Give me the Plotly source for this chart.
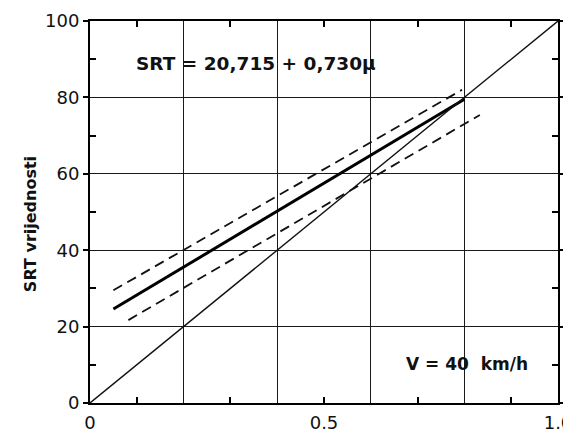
import plotly.graph_objects as go

# SRT vrijednosti vs. koeficijent trenja, V = 40 km/h
mu_fit = [0.05, 0.80]
srt_fit = [24.6, 79.5]
mu_upper = [0.05, 0.795]
srt_upper = [29.5, 82.0]
mu_lower = [0.082, 0.833]
srt_lower = [21.7, 75.4]
mu_equal = [0.0, 1.0]
srt_equal = [0.0, 100.0]

x_grid = [0.2, 0.4, 0.6, 0.8]
x_minor = [0.1, 0.3, 0.5, 0.7, 0.9]
x_labels = [0, 0.5, 1.0]
x_text = ['0', '0.5', '1.0']
y_major = [0, 20, 40, 60, 80, 100]
y_minor = [10, 30, 50, 70, 90]

formula = 'SRT = 20,715 + 0,730μ'
speed = 'V = 40  km/h'
y_title = 'SRT vrijednosti'

FONT = 'DejaVu Sans'

fig = go.Figure()

# pravac jednakosti
fig.add_trace(go.Scatter(
    x=mu_equal, y=srt_equal, mode='lines', xaxis='x2',
    line=dict(color='#111', width=1.4)
))

# granice (isprekidano)
fig.add_trace(go.Scatter(
    x=mu_upper, y=srt_upper, mode='lines',
    line=dict(color='#111', width=1.8, dash='10px,6px')
))
fig.add_trace(go.Scatter(
    x=mu_lower, y=srt_lower, mode='lines',
    line=dict(color='#111', width=1.8, dash='10px,6px')
))

# regresija
fig.add_trace(go.Scatter(
    x=mu_fit, y=srt_fit, mode='lines',
    line=dict(color='#000', width=3)
))

# stranica ima 8px margine, pa je slika manja za 8px
fig.update_layout(
    width=563,
    height=422,
    margin=dict(l=82, r=13, t=13, b=27),
    plot_bgcolor='white',
    paper_bgcolor='white',
    showlegend=False,
    font=dict(family=FONT, color='#111'),
    xaxis=dict(
        range=[0, 1],
        tickmode='array',
        tickvals=x_grid,
        showticklabels=False,
        ticks='',
        showgrid=True,
        gridcolor='#1a1a1a',
        gridwidth=1.3,
        showline=True,
        linecolor='#000',
        linewidth=2,
        mirror='ticks',
        zeroline=False,
        automargin=False,
        minor=dict(tickmode='array', tickvals=x_minor, ticks='inside',
                   ticklen=6, tickwidth=1.5, tickcolor='#000', showgrid=False),
    ),
    xaxis2=dict(
        overlaying='x',
        anchor='y',
        side='bottom',
        range=[0, 1],
        tickmode='array',
        tickvals=x_labels,
        ticktext=x_text,
        ticks='',
        showgrid=False,
        showline=False,
        zeroline=False,
        automargin=False,
        ticklabelstandoff=7,
        ticklabeloverflow='allow',
        tickfont=dict(family=FONT, size=18, color='#111'),
    ),
    yaxis=dict(
        range=[0, 100],
        tickmode='array',
        tickvals=y_major,
        ticks='outside',
        ticklen=5,
        tickwidth=1.5,
        tickcolor='#000',
        showgrid=True,
        gridcolor='#1a1a1a',
        gridwidth=1.3,
        showline=True,
        linecolor='#000',
        linewidth=2,
        mirror='ticks',
        zeroline=False,
        automargin=False,
        tickfont=dict(family=FONT, size=18, color='#111'),
        minor=dict(tickmode='array', tickvals=y_minor, ticks='inside',
                   ticklen=6, tickwidth=1.5, tickcolor='#000', showgrid=False),
    ),
    annotations=[
        dict(text=formula, x=0.355, y=89, xref='x', yref='y', showarrow=False,
             font=dict(family=FONT, size=18.5, weight='bold', color='#111')),
        dict(text=speed, x=0.805, y=10.2, xref='x', yref='y', showarrow=False,
             font=dict(family=FONT, size=17, weight='bold', color='#111')),
        dict(text=y_title, x=-0.15, y=0.469, xref='paper', yref='paper',
             showarrow=False, textangle=-90,
             font=dict(family=FONT, size=16, weight='bold', color='#111')),
    ],
)

fig.write_html("out.html")
